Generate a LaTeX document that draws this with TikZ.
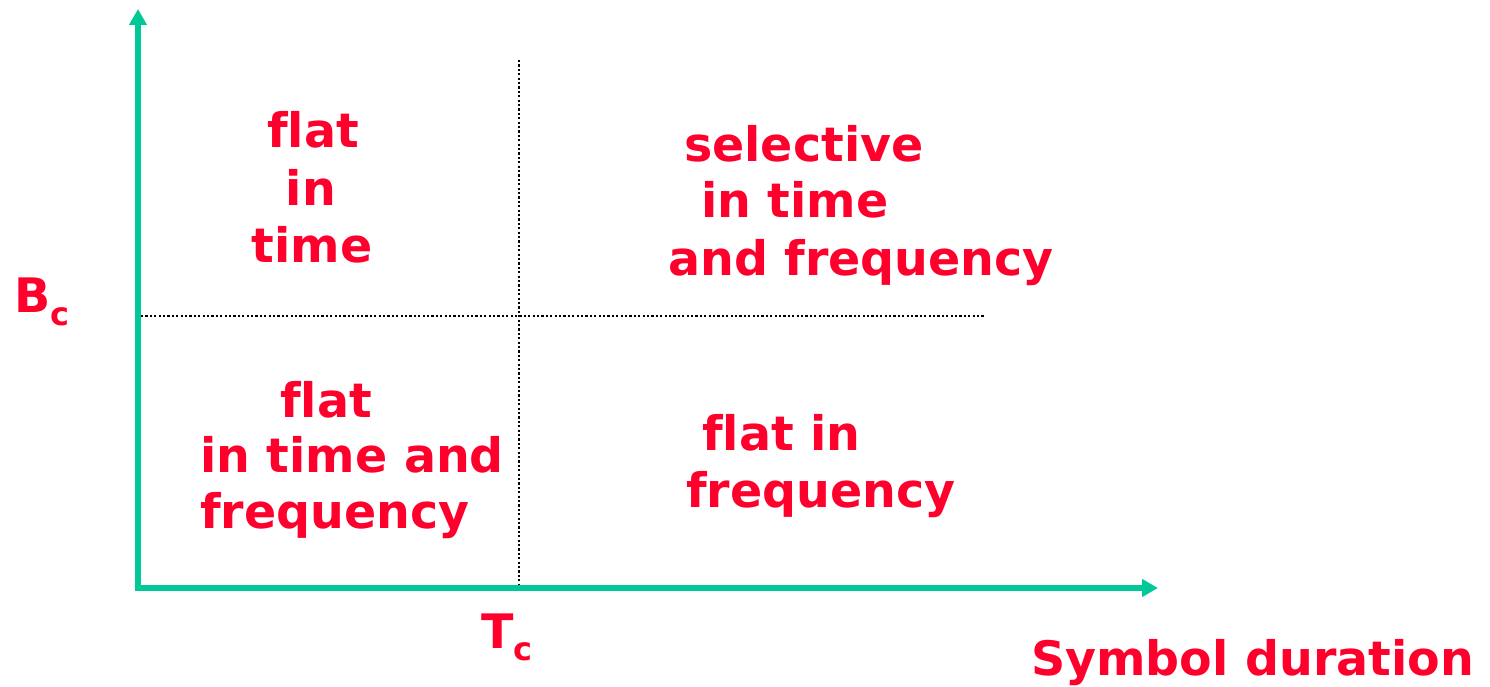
\documentclass[tikz,border=0pt]{standalone}
\usepackage{fontspec}
\setmainfont[Ligatures=NoCommon]{DejaVu Sans}
\usetikzlibrary{arrows.meta}
\definecolor{lblred}{RGB}{255,0,45}
\definecolor{axgreen}{RGB}{0,200,150}
\begin{document}
\begin{tikzpicture}[x=1pt,y=-1pt,
  lbl/.style={text=lblred,font=\fontsize{47.5}{57}\selectfont\bfseries,inner sep=0pt,anchor=base west},
  axis/.style={draw=axgreen,line width=5.5pt,-{Triangle[length=16pt,width=17pt]}},
  guide/.style={draw=black,line width=2.4pt,dash pattern=on 2.2pt off 2.2pt}]
\useasboundingbox (0,0) rectangle (1490,687);
\fill[white] (0,0) rectangle (1490,687);
% axes
\coordinate (O) at (138,588);
\coordinate (ytop) at (138,9);
\coordinate (xend) at (1158,588);
\coordinate (hl) at (141,316);
\coordinate (hr) at (985,316);
\coordinate (vt) at (519,60);
\coordinate (vb) at (519,585);
\draw[guide] (hl) -- (hr);
\draw[guide] (vt) -- (vb);
\draw[axis] (135.3,588) -- (xend);
\draw[axis] (O) -- (ytop);
% quadrant labels
\node[lbl,anchor=base] (a1) at (313,148) {flat};
\node[lbl,anchor=base] (a2) at (311,205) {in};
\node[lbl,anchor=base] (a3) at (312,262) {time};
\node[lbl] (b1) at (684,162) {selective};
\node[lbl] (b2) at (701,218) {in time};
\node[lbl] (b3) at (668,275) {and frequency};
\node[lbl,anchor=base] (c1) at (326,417) {flat};
\node[lbl] (c2) at (200,472) {in time and};
\node[lbl] (c3) at (200,528) {frequency};
\node[lbl] (d1) at (702,450) {flat in};
\node[lbl] (d2) at (686,507) {frequency};
% axis labels
\node[lbl] (bc) at (14,312) {B\raisebox{-13pt}{\fontsize{32}{36}\selectfont c}};
\node[lbl] (tc) at (481,648) {T\raisebox{-12pt}{\fontsize{32}{36}\selectfont c}};
\node[lbl] (sd) at (1031,675) {Symbol duration};
\end{tikzpicture}
\end{document}
